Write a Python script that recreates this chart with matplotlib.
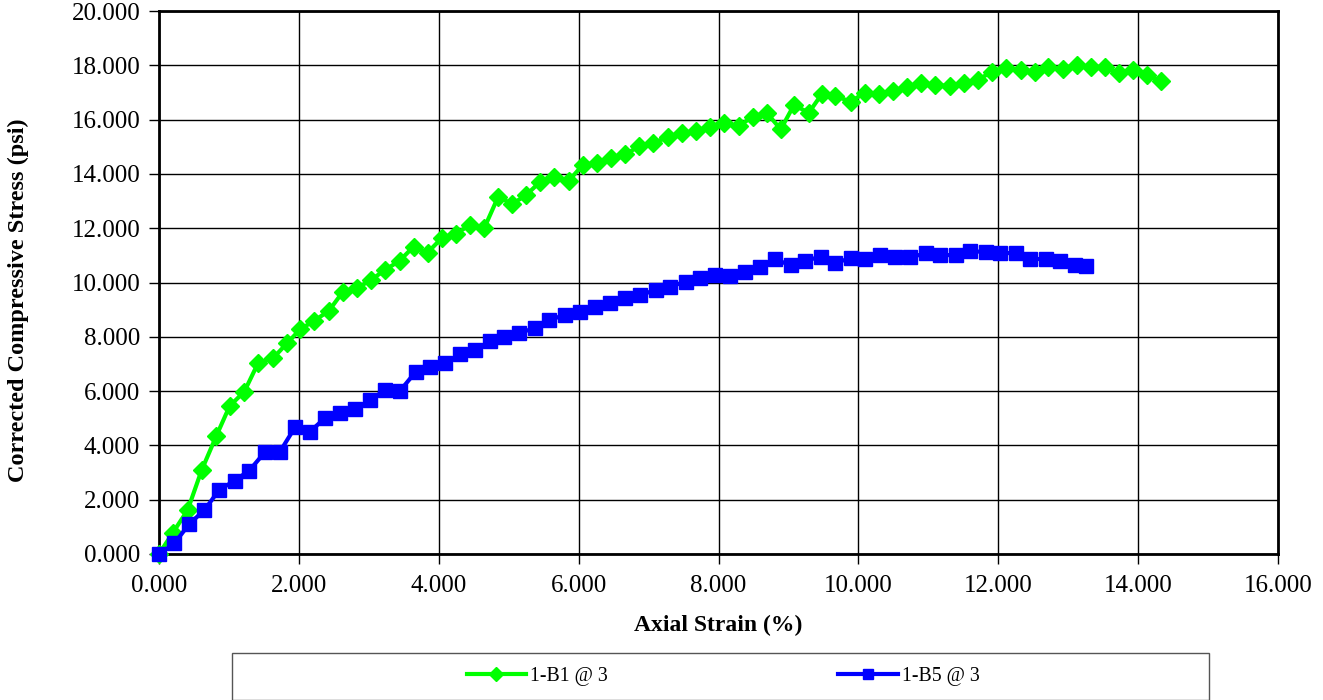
import matplotlib
matplotlib.use("Agg")
import matplotlib.pyplot as plt
from matplotlib.patches import Rectangle

b1_strain = [0, 0.20, 0.41, 0.61, 0.82, 1.01, 1.22, 1.42, 1.63, 1.83, 2.02, 2.22, 2.43, 2.63, 2.83,
             3.03, 3.23, 3.44, 3.64, 3.84, 4.04, 4.24, 4.45, 4.65, 4.85, 5.05, 5.25, 5.45, 5.65, 5.86,
             6.06, 6.26, 6.46, 6.67, 6.87, 7.07, 7.28, 7.48, 7.68, 7.88, 8.08, 8.29, 8.49, 8.69, 8.89,
             9.08, 9.29, 9.48, 9.67, 9.89, 10.09, 10.30, 10.50, 10.70, 10.90, 11.10, 11.31, 11.51, 11.71,
             11.91, 12.11, 12.32, 12.52, 12.71, 12.92, 13.12, 13.32, 13.52, 13.72, 13.92, 14.13, 14.33]
b1_stress = [0, 0.79, 1.62, 3.09, 4.35, 5.45, 5.98, 7.05, 7.21, 7.76, 8.28, 8.59, 8.96, 9.66, 9.79,
             10.09, 10.46, 10.80, 11.32, 11.10, 11.63, 11.79, 12.12, 12.00, 13.16, 12.89, 13.22, 13.71, 13.87, 13.75,
             14.33, 14.41, 14.57, 14.72, 15.03, 15.15, 15.35, 15.49, 15.59, 15.74, 15.86, 15.76, 16.11, 16.25, 15.64,
             16.54, 16.25, 16.95, 16.87, 16.66, 16.99, 16.94, 17.07, 17.21, 17.34, 17.27, 17.24, 17.36, 17.46,
             17.77, 17.89, 17.83, 17.77, 17.92, 17.85, 18.01, 17.95, 17.92, 17.71, 17.83, 17.64, 17.42]

b5_strain = [0, 0.22, 0.43, 0.65, 0.86, 1.08, 1.29, 1.52, 1.73, 1.95, 2.16, 2.37, 2.59, 2.80, 3.02,
             3.23, 3.45, 3.67, 3.88, 4.09, 4.31, 4.52, 4.73, 4.94, 5.15, 5.37, 5.58, 5.80, 6.02, 6.24,
             6.45, 6.67, 6.88, 7.10, 7.31, 7.53, 7.74, 7.95, 8.17, 8.38, 8.60, 8.81, 9.03, 9.24, 9.46,
             9.67, 9.89, 10.10, 10.31, 10.53, 10.74, 10.96, 11.17, 11.39, 11.60, 11.82, 12.03, 12.25, 12.46,
             12.68, 12.89, 13.10, 13.25]
b5_stress = [0, 0.39, 1.10, 1.62, 2.36, 2.70, 3.07, 3.77, 3.77, 4.69, 4.51, 5.00, 5.18, 5.33, 5.67,
             6.04, 6.02, 6.71, 6.88, 7.02, 7.35, 7.52, 7.84, 8.00, 8.15, 8.31, 8.62, 8.80, 8.93, 9.09,
             9.23, 9.42, 9.54, 9.72, 9.85, 10.03, 10.15, 10.28, 10.24, 10.40, 10.56, 10.85, 10.64, 10.80, 10.95,
             10.73, 10.89, 10.85, 11.01, 10.95, 10.93, 11.07, 11.02, 11.00, 11.16, 11.12, 11.10, 11.07, 10.88,
             10.85, 10.80, 10.64, 10.61]

series_labels = ["1-B1 @ 3", "1-B5 @ 3"]
x_ticks = [0, 2, 4, 6, 8, 10, 12, 14, 16]
y_ticks = [0, 2, 4, 6, 8, 10, 12, 14, 16, 18, 20]

plt.rcParams['font.family'] = ['Liberation Serif', 'DejaVu Serif']

W, H = 1323, 700
fig = plt.figure(figsize=(W / 100, H / 100), dpi=100)
ax = fig.add_axes([159 / W, 1 - 554 / H, (1278 - 159) / W, (554 - 11) / H])

ax.plot(b1_strain, b1_stress, color='#00FF00', lw=3, marker='D', markersize=9,
        label=series_labels[0], clip_on=False, zorder=3)
ax.plot(b5_strain, b5_stress, color='#0000FF', lw=3, marker='s', markersize=10,
        label=series_labels[1], clip_on=False, zorder=4)

ax.set_xlim(0, 16)
ax.set_ylim(0, 20)
ax.set_xticks(x_ticks)
ax.set_yticks(y_ticks)
ax.set_xticklabels([f"{v:.3f}" for v in x_ticks])
ax.set_yticklabels([f"{v:.3f}" for v in y_ticks])
ax.tick_params(axis='both', labelsize=18, direction='out', length=7, width=1, colors='black')
ax.tick_params(axis='x', pad=8)
ax.tick_params(axis='y', pad=6.5)
ax.grid(True, color='black', lw=1)
ax.set_axisbelow(True)
for s in ax.spines.values():
    s.set_linewidth(2)
    s.set_color('black')

ax.set_xlabel("Axial Strain (%)", fontsize=17, fontweight='bold')
ax.xaxis.set_label_coords(0.5, -0.113)
ax.set_ylabel("Corrected Compressive Stress (psi)", fontsize=17.5, fontweight='bold')
ax.yaxis.set_label_coords(-0.116, 0.468)

fig.patches.append(Rectangle((232 / W, 0), (1209 - 232) / W, 47 / H, transform=fig.transFigure,
                             facecolor='white', edgecolor='#555555', lw=1))
leg = fig.legend(loc='center', bbox_to_anchor=(723 / W, 24 / H), ncol=2, frameon=False,
                 fontsize=14.3, columnspacing=11.6, handlelength=3.0, handletextpad=0.2,
                 markerscale=0.75)

fig.savefig("out.png", dpi=100)
